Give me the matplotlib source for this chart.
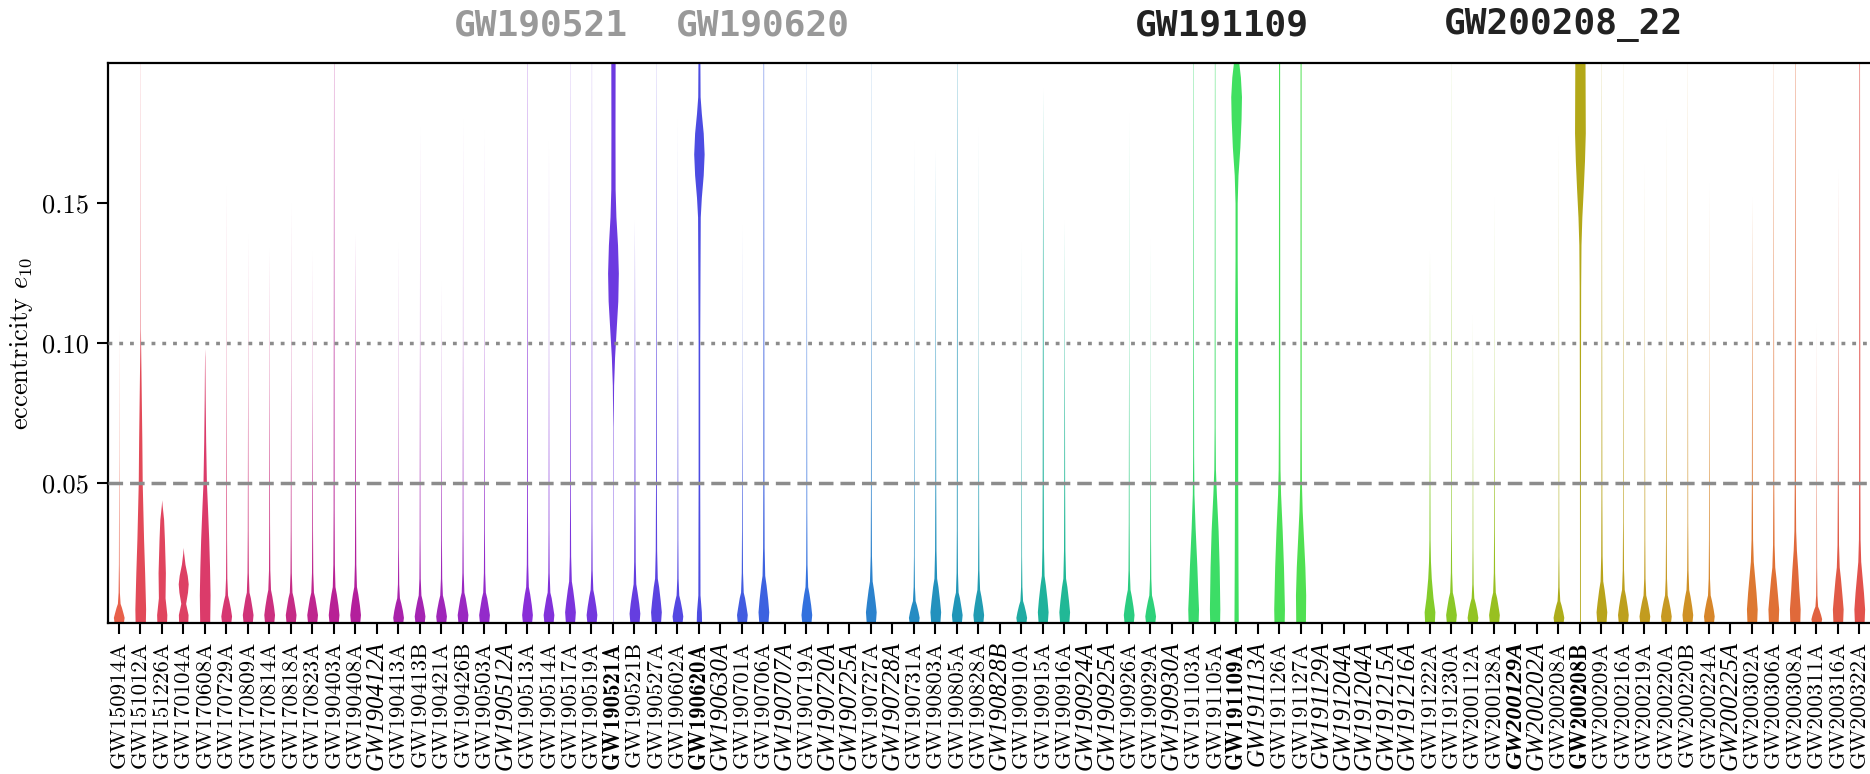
import matplotlib
matplotlib.use("Agg")
from matplotlib import pyplot as plt
from matplotlib.colors import LinearSegmentedColormap

plt.rcParams['font.family'] = 'cmr10'
plt.rcParams['mathtext.fontset'] = 'cm'
plt.rcParams['axes.formatter.use_mathtext'] = True

events = ['GW150914A', 'GW151012A', 'GW151226A', 'GW170104A', 'GW170608A', 'GW170729A',
          'GW170809A', 'GW170814A', 'GW170818A', 'GW170823A', 'GW190403A', 'GW190408A',
          'GW190412A', 'GW190413A', 'GW190413B', 'GW190421A', 'GW190426B', 'GW190503A',
          'GW190512A', 'GW190513A', 'GW190514A', 'GW190517A', 'GW190519A', 'GW190521A',
          'GW190521B', 'GW190527A', 'GW190602A', 'GW190620A', 'GW190630A', 'GW190701A',
          'GW190706A', 'GW190707A', 'GW190719A', 'GW190720A', 'GW190725A', 'GW190727A',
          'GW190728A', 'GW190731A', 'GW190803A', 'GW190805A', 'GW190828A', 'GW190828B',
          'GW190910A', 'GW190915A', 'GW190916A', 'GW190924A', 'GW190925A', 'GW190926A',
          'GW190929A', 'GW190930A', 'GW191103A', 'GW191105A', 'GW191109A', 'GW191113A',
          'GW191126A', 'GW191127A', 'GW191129A', 'GW191204A', 'GW191204A', 'GW191215A',
          'GW191216A', 'GW191222A', 'GW191230A', 'GW200112A', 'GW200128A', 'GW200129A',
          'GW200202A', 'GW200208A', 'GW200208B', 'GW200209A', 'GW200216A', 'GW200219A',
          'GW200220A', 'GW200220B', 'GW200224A', 'GW200225A', 'GW200302A', 'GW200306A',
          'GW200308A', 'GW200311A', 'GW200316A', 'GW200322A']

italic_events = ['GW190412A', 'GW190512A', 'GW190630A', 'GW190707A', 'GW190720A', 'GW190725A',
                 'GW190728A', 'GW190828B', 'GW190924A', 'GW190925A', 'GW190930A', 'GW191113A',
                 'GW191129A', 'GW191204A', 'GW191215A', 'GW191216A', 'GW200129A', 'GW200202A',
                 'GW200225A']
bold_events = ['GW190521A', 'GW190620A', 'GW191109A', 'GW200129A', 'GW200208B']

top_labels = ['GW190521', 'GW190620', 'GW191109', 'GW200208_22']
top_colors = ['#999999', '#999999', '#222222', '#222222']
top_x = [541, 763, 1222, 1563]

# violin profiles: (eccentricity, relative width)
profiles = {
    'GW150914A': [(0, .85), (.002, 1), (.0035, .8), (.0056, .5), (.007, .25), (.011, .12), (.021, .06), (.06, .02), (.106, 0)],
    'GW151012A': [(0, .95), (.005, 1), (.018, .82), (.03, .62), (.05, .37), (.065, .3), (.08, .2), (.095, .1), (.105, .04), (.15, .02), (.2, .01)],
    'GW151226A': [(0, .9), (.003, .95), (.009, .62), (.018, .68), (.03, .5), (.037, .35), (.042, .08), (.044, 0)],
    'GW170104A': [(0, .85), (.003, .9), (.007, .45), (.011, .8), (.014, .93), (.017, .75), (.021, .33), (.025, .08), (.027, 0)],
    'GW170608A': [(0, .93), (.01, 1), (.02, .9), (.03, .75), (.042, .5), (.05, .32), (.065, .18), (.08, .09), (.095, .03), (.098, 0)],
    'GW170729A': [(0, .85), (.0025, 1), (.005, .8), (.008, .5), (.01, .25), (.016, .12), (.03, .07), (.09, .02), (.156, 0)],
    'GW170809A': [(0, .85), (.003, 1), (.0055, .8), (.009, .5), (.011, .25), (.018, .12), (.033, .07), (.085, .02), (.139, 0)],
    'GW170814A': [(0, .85), (.003, 1), (.006, .8), (.0096, .5), (.012, .25), (.019, .12), (.036, .07), (.085, .025), (.134, 0)],
    'GW170818A': [(0, .85), (.003, 1), (.0055, .8), (.009, .5), (.011, .25), (.018, .12), (.033, .07), (.09, .02), (.15, 0)],
    'GW170823A': [(0, .85), (.003, 1), (.0055, .8), (.009, .5), (.011, .25), (.018, .12), (.033, .07), (.083, .02), (.133, 0)],
    'GW190403A': [(0, .85), (.003, 1), (.0065, .8), (.0104, .5), (.013, .25), (.021, .14), (.04, .09), (.12, .05), (.2, .02)],
    'GW190408A': [(0, .85), (.003, 1), (.0065, .8), (.0104, .5), (.013, .25), (.021, .13), (.04, .08), (.09, .04), (.139, 0)],
    'GW190413A': [(0, .85), (.002, 1), (.0045, .8), (.0072, .5), (.009, .25), (.014, .12), (.027, .06), (.08, .02), (.136, 0)],
    'GW190413B': [(0, .85), (.0025, 1), (.005, .8), (.008, .5), (.01, .25), (.016, .12), (.03, .07), (.1, .02), (.177, 0)],
    'GW190421A': [(0, .85), (.0025, 1), (.005, .8), (.008, .5), (.01, .25), (.016, .12), (.03, .07), (.075, .02), (.122, 0)],
    'GW190426B': [(0, .85), (.003, 1), (.0055, .8), (.009, .5), (.011, .25), (.018, .12), (.033, .07), (.1, .02), (.18, 0)],
    'GW190503A': [(0, .85), (.003, 1), (.0055, .8), (.009, .5), (.011, .25), (.018, .12), (.033, .07), (.1, .02), (.176, 0)],
    'GW190513A': [(0, .85), (.003, 1), (.0065, .8), (.0104, .5), (.013, .25), (.021, .13), (.04, .08), (.12, .04), (.2, .02)],
    'GW190514A': [(0, .85), (.003, 1), (.0055, .8), (.009, .5), (.011, .25), (.018, .12), (.033, .07), (.1, .02), (.172, 0)],
    'GW190517A': [(0, .85), (.004, 1), (.0075, .8), (.012, .5), (.015, .25), (.024, .12), (.045, .07), (.12, .03), (.2, .01)],
    'GW190519A': [(0, .85), (.003, 1), (.006, .8), (.0096, .5), (.012, .25), (.019, .12), (.036, .07), (.12, .03), (.2, .01)],
    'GW190521A': [(0, .03), (.07, .04), (.085, .12), (.095, .3), (.105, .6), (.115, .9), (.125, 1), (.135, .85), (.145, .55), (.155, .4), (.175, .38), (.2, .4)],
    'GW190521B': [(0, .85), (.0035, 1), (.007, .8), (.011, .5), (.014, .25), (.022, .14), (.042, .09), (.09, .05), (.144, 0)],
    'GW190527A': [(0, .85), (.004, 1), (.008, .8), (.013, .5), (.016, .25), (.026, .13), (.048, .08), (.12, .04), (.2, .01)],
    'GW190602A': [(0, .85), (.0025, 1), (.005, .8), (.008, .5), (.01, .25), (.016, .12), (.03, .07), (.1, .02), (.18, 0)],
    'GW190620A': [(0, .5), (.004, .45), (.01, .2), (.05, .15), (.1, .15), (.125, .2), (.145, .25), (.152, .45), (.16, .8), (.1675, .97), (.175, .8), (.182, .45), (.188, .22), (.2, .18)],
    'GW190701A': [(0, .85), (.003, 1), (.0055, .8), (.009, .5), (.011, .25), (.018, .12), (.033, .07), (.085, .02), (.142, 0)],
    'GW190706A': [(0, .85), (.004, 1), (.0085, .8), (.0136, .5), (.017, .25), (.027, .14), (.05, .1), (.12, .07), (.2, .04)],
    'GW190719A': [(0, .85), (.003, 1), (.0065, .8), (.0104, .5), (.013, .25), (.021, .12), (.04, .07), (.12, .03), (.2, .01)],
    'GW190727A': [(0, .85), (.004, 1), (.0075, .8), (.012, .5), (.015, .25), (.024, .12), (.045, .07), (.12, .025), (.2, .01)],
    'GW190731A': [(0, .85), (.002, 1), (.004, .8), (.0064, .5), (.008, .25), (.013, .12), (.024, .06), (.1, .02), (.172, 0)],
    'GW190803A': [(0, .85), (.004, 1), (.008, .8), (.013, .5), (.016, .25), (.026, .13), (.048, .08), (.1, .04), (.169, 0)],
    'GW190805A': [(0, .85), (.003, 1), (.0055, .8), (.009, .5), (.011, .25), (.018, .13), (.033, .08), (.12, .05), (.2, .02)],
    'GW190828A': [(0, .85), (.003, 1), (.006, .8), (.0096, .5), (.012, .25), (.019, .12), (.036, .07), (.1, .02), (.177, 0)],
    'GW190910A': [(0, .85), (.002, 1), (.004, .8), (.0064, .5), (.008, .25), (.013, .12), (.024, .06), (.08, .02), (.136, 0)],
    'GW190915A': [(0, .85), (.004, 1), (.0085, .8), (.0136, .5), (.017, .25), (.027, .14), (.05, .1), (.12, .06), (.191, 0)],
    'GW190916A': [(0, .85), (.004, 1), (.008, .8), (.013, .5), (.016, .25), (.026, .13), (.048, .08), (.09, .04), (.144, 0)],
    'GW190926A': [(0, .85), (.003, 1), (.006, .8), (.0096, .5), (.012, .25), (.019, .12), (.036, .07), (.1, .02), (.182, 0)],
    'GW190929A': [(0, .85), (.0025, 1), (.005, .8), (.008, .5), (.01, .25), (.016, .12), (.03, .07), (.08, .02), (.137, 0)],
    'GW191103A': [(0, .93), (.005, 1), (.012, .85), (.02, .7), (.034, .37), (.046, .15), (.06, .09), (.1, .06), (.2, .03)],
    'GW191105A': [(0, .92), (.005, .97), (.02, .85), (.033, .65), (.046, .33), (.055, .15), (.07, .09), (.2, .04)],
    'GW191109A': [(0, .4), (.02, .35), (.05, .3), (.08, .3), (.1, .28), (.13, .2), (.15, .2), (.16, .35), (.17, .7), (.18, .92), (.188, 1), (.195, .8), (.2, .5)],
    'GW191126A': [(0, .95), (.005, 1), (.02, .82), (.033, .58), (.046, .28), (.055, .17), (.07, .13), (.2, .1)],
    'GW191127A': [(0, .9), (.01, .95), (.02, .8), (.03, .55), (.04, .3), (.05, .16), (.07, .12), (.2, .09)],
    'GW191222A': [(0, .9), (.004, 1), (.009, .65), (.016, .33), (.022, .18), (.03, .1), (.06, .05), (.133, 0)],
    'GW191230A': [(0, .85), (.003, 1), (.0055, .8), (.009, .5), (.011, .25), (.018, .12), (.033, .06), (.12, .02), (.2, .005)],
    'GW200112A': [(0, .85), (.002, 1), (.0045, .8), (.0072, .5), (.009, .25), (.014, .12), (.027, .06), (.07, .02), (.11, 0)],
    'GW200128A': [(0, .85), (.003, 1), (.0055, .8), (.009, .5), (.011, .25), (.018, .12), (.033, .07), (.09, .02), (.152, 0)],
    'GW200208A': [(0, .85), (.002, 1), (.004, .8), (.0064, .5), (.008, .25), (.013, .12), (.024, .06), (.1, .02), (.174, 0)],
    'GW200208B': [(0, .08), (.03, .08), (.08, .1), (.12, .14), (.135, .2), (.145, .36), (.155, .62), (.165, .85), (.175, 1), (.2, .95)],
    'GW200209A': [(0, .85), (.004, 1), (.0075, .8), (.012, .5), (.015, .25), (.024, .13), (.045, .08), (.12, .04), (.2, .01)],
    'GW200216A': [(0, .85), (.003, 1), (.006, .8), (.0096, .5), (.012, .25), (.019, .12), (.036, .06), (.12, .02), (.2, .005)],
    'GW200219A': [(0, .85), (.0025, 1), (.005, .8), (.008, .5), (.01, .25), (.016, .12), (.03, .07), (.1, .02), (.164, 0)],
    'GW200220A': [(0, .85), (.0025, 1), (.005, .8), (.008, .5), (.01, .25), (.016, .12), (.03, .07), (.1, .02), (.18, 0)],
    'GW200220B': [(0, .85), (.003, 1), (.006, .8), (.0096, .5), (.012, .25), (.019, .12), (.036, .06), (.12, .02), (.2, .005)],
    'GW200224A': [(0, .85), (.0025, 1), (.005, .8), (.008, .5), (.01, .25), (.016, .12), (.03, .07), (.09, .02), (.157, 0)],
    'GW200302A': [(0, .9), (.005, 1), (.011, .78), (.017, .5), (.022, .27), (.03, .14), (.05, .08), (.1, .04), (.152, 0)],
    'GW200306A': [(0, .9), (.005, 1), (.01, .78), (.016, .5), (.02, .27), (.028, .14), (.05, .08), (.12, .04), (.2, .01)],
    'GW200308A': [(0, .93), (.005, 1), (.012, .75), (.019, .55), (.026, .3), (.033, .16), (.05, .1), (.12, .06), (.2, .03)],
    'GW200311A': [(0, .85), (.0015, 1), (.003, .8), (.0048, .5), (.006, .25), (.01, .12), (.02, .06), (.06, .02), (.107, 0)],
    'GW200316A': [(0, .9), (.005, 1), (.01, .78), (.016, .5), (.02, .27), (.028, .14), (.05, .08), (.1, .03), (.162, 0)],
    'GW200322A': [(0, .9), (.005, 1), (.011, .78), (.017, .5), (.022, .27), (.03, .15), (.05, .11), (.12, .08), (.2, .05)],
}

# colour ramp along the event order
ramp = LinearSegmentedColormap.from_list('gw', [
    (0.00, '#e8604a'), (0.012, '#e24a58'), (0.05, '#da3a6c'), (0.13, '#b41e9a'),
    (0.23, '#8a2ed8'), (0.28, '#6b3ae0'), (0.33, '#4c4ce2'), (0.39, '#3272de'),
    (0.475, '#2196b8'), (0.53, '#1fb49a'), (0.58, '#2cd07c'), (0.635, '#40e060'),
    (0.67, '#50e052'), (0.745, '#84cc2a'), (0.78, '#98c020'), (0.83, '#b2a818'),
    (0.88, '#c89822'), (0.90, '#d68a28'), (0.94, '#e07234'), (1.0, '#e24a52')])

fig = plt.figure(figsize=(18.7, 7.74), dpi=100)
ax = fig.add_axes([108 / 1870, 1 - 623 / 774, 1 - 108 / 1870, (623 - 63) / 774])

half = 0.25
for i, name in enumerate(events):
    if name not in profiles:
        continue
    e = [p[0] for p in profiles[name]]
    w = [p[1] * half for p in profiles[name]]
    left = [i - v for v in w]
    right = [i + v for v in w]
    ax.fill_betweenx(e, left, right, color=ramp(i / len(events)), lw=0, zorder=2)

ax.axhline(0.05, color='#8c8c8c', lw=2.5, ls=(0, (4.2, 2)), zorder=3)
ax.axhline(0.10, color='#8c8c8c', lw=2.5, ls=(0, (1.1, 2)), zorder=3)

ax.set_xlim(-0.5, len(events) - 0.5)
ax.set_ylim(0, 0.2)
ax.set_yticks([0.05, 0.10, 0.15])
ax.set_yticklabels(['0.05', '0.10', '0.15'], fontsize=19)
ax.set_ylabel('eccentricity $e_{10}$', fontsize=19, labelpad=5)

ax.set_xticks(range(len(events)))
ax.set_xticklabels(events, rotation=90, fontsize=16.5)
for lab in ax.get_xticklabels():
    t = lab.get_text()
    if t in italic_events and t in bold_events:
        lab.set_family('Liberation Serif')
        lab.set_style('italic')
        lab.set_weight('bold')
        lab.set_fontsize(17.5)
    elif t in italic_events:
        lab.set_family('Liberation Serif')
        lab.set_style('italic')
        lab.set_fontsize(18)
    elif t in bold_events:
        lab.set_family('cmb10')

ax.tick_params(axis='both', direction='out', length=8, width=1.5, pad=6)
ax.tick_params(axis='x', pad=5)
for side in ['left', 'top', 'bottom']:
    ax.spines[side].set_linewidth(1.6)
ax.spines['right'].set_visible(False)

for lab, c, x in zip(top_labels, top_colors, top_x):
    fig.text(x / 1870, 1 - 25 / 774, lab, ha='center', va='center', fontsize=26,
             family='DejaVu Sans Mono', weight='bold', color=c)

fig.savefig('out.png', dpi=100)
